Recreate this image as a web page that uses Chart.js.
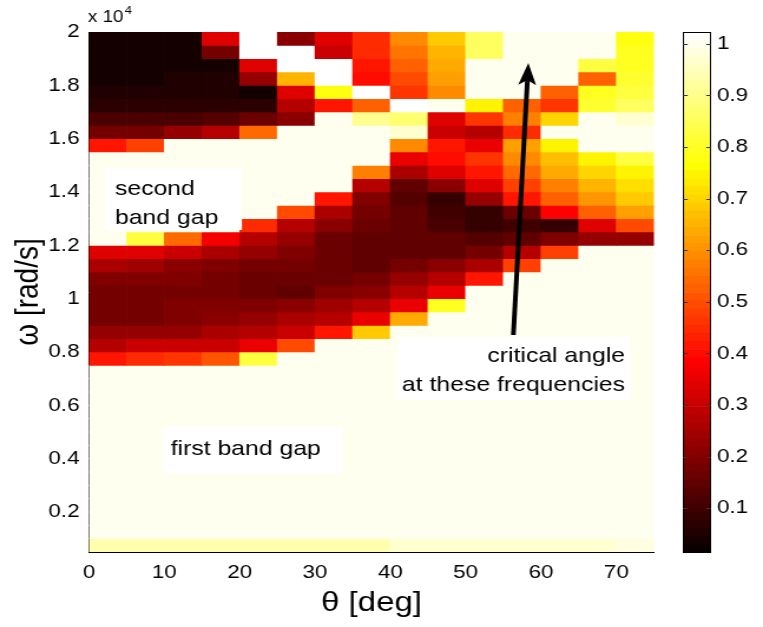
<!DOCTYPE html>
<html><head><meta charset="utf-8">
<script src="https://cdn.jsdelivr.net/npm/chart.js@4.4.1/dist/chart.umd.min.js"></script>
<style>
html,body{margin:0;padding:0;background:#fff;overflow:hidden;}
#wrap{position:relative;width:763px;height:627px;}
#wrap canvas{position:absolute;left:0;top:0;}
</style></head><body>
<div id="wrap">
<canvas id="main" width="647" height="627" style="width:763px;height:627px"></canvas>
<canvas id="cbar" width="647" height="627" style="width:763px;height:627px"></canvas>
</div>
<script>
// ---- data ----
const thetaCenters = [2.5, 7.5, 12.5, 17.5, 22.5, 27.5, 32.5, 37.5, 42.5, 47.5, 52.5, 57.5, 62.5, 67.5, 72.5];
// lower edge of each frequency row (rad/s), from top row to bottom row
const omegaLow = [19500, 19000, 18500, 18000, 17500, 17000, 16500, 16000, 15500, 15000, 14500, 14000, 13500, 13000,
  12500, 12000, 11500, 11000, 10500, 10000, 9500, 9000, 8500, 8000, 7500, 7000, 6500, 6000, 5500, 5000,
  4500, 4000, 3500, 3000, 2500, 2000, 1500, 1000, 500];
const omegaStep = 500;
// transmission values, one row per omegaLow entry, one column per thetaCenters entry
const transmission = [
  [0.04,0.04,0.04,0.34,1.03,0.21,0.34,0.45,0.59,0.69,0.86,1.00,1.00,1.00,0.78],
  [0.04,0.04,0.03,0.18,1.03,1.03,0.30,0.45,0.56,0.66,0.86,1.00,1.00,1.00,0.79],
  [0.04,0.04,0.04,0.03,0.34,1.03,1.03,0.42,0.53,0.64,1.00,1.00,1.00,0.82,0.80],
  [0.04,0.04,0.05,0.05,0.22,0.66,1.03,0.40,0.50,0.62,1.00,1.00,1.00,0.53,0.81],
  [0.06,0.06,0.06,0.06,0.04,0.34,0.78,1.03,0.47,0.59,1.00,1.00,0.53,0.79,0.82],
  [0.07,0.07,0.07,0.07,0.07,0.28,0.42,0.53,1.03,1.00,0.75,0.53,0.47,0.81,0.85],
  [0.12,0.12,0.12,0.13,0.16,0.21,1.00,0.90,0.87,0.34,0.47,0.57,0.70,1.00,0.96],
  [0.18,0.18,0.22,0.28,0.54,1.00,1.00,1.00,0.97,0.31,0.27,0.45,1.00,1.00,1.00],
  [0.42,0.48,1.00,1.00,1.00,1.00,1.00,1.00,0.59,0.41,0.35,0.62,0.75,1.00,1.00],
  [1.00,1.00,1.00,1.00,1.00,1.00,1.00,1.00,0.35,0.40,0.47,0.59,0.67,0.75,0.83],
  [1.00,1.00,1.00,1.00,1.00,1.00,1.00,0.57,0.25,0.33,0.42,0.54,0.63,0.70,0.75],
  [1.00,1.00,1.00,1.00,1.00,1.00,1.00,0.28,0.15,0.21,0.34,0.48,0.57,0.66,0.72],
  [1.00,1.00,1.00,1.00,1.00,1.00,0.42,0.19,0.13,0.09,0.22,0.41,0.53,0.61,0.69],
  [1.00,1.00,1.00,1.00,1.00,0.50,0.25,0.18,0.14,0.10,0.08,0.16,0.38,0.53,0.62],
  [1.00,1.00,1.00,1.00,0.45,0.28,0.21,0.16,0.14,0.12,0.08,0.10,0.08,0.33,0.50],
  [1.00,0.83,0.54,0.37,0.28,0.22,0.16,0.15,0.14,0.14,0.13,0.15,0.19,0.22,0.23],
  [0.34,0.33,0.30,0.25,0.22,0.19,0.16,0.15,0.15,0.15,0.18,0.27,0.48,1.00,1.00],
  [0.25,0.24,0.21,0.19,0.18,0.18,0.16,0.15,0.18,0.21,0.25,0.48,1.00,1.00,1.00],
  [0.19,0.19,0.19,0.18,0.16,0.16,0.16,0.18,0.22,0.27,0.42,1.00,1.00,1.00,1.00],
  [0.18,0.18,0.18,0.18,0.17,0.15,0.19,0.21,0.27,0.36,1.00,1.00,1.00,1.00,1.00],
  [0.18,0.18,0.19,0.19,0.19,0.21,0.24,0.27,0.35,0.79,1.00,1.00,1.00,1.00,1.00],
  [0.18,0.18,0.20,0.21,0.22,0.25,0.28,0.35,0.64,1.00,1.00,1.00,1.00,1.00,1.00],
  [0.22,0.22,0.23,0.25,0.27,0.31,0.41,0.69,1.00,1.00,1.00,1.00,1.00,1.00,1.00],
  [0.28,0.30,0.30,0.31,0.35,0.50,1.00,1.00,1.00,1.00,1.00,1.00,1.00,1.00,1.00],
  [0.41,0.44,0.46,0.51,0.83,1.00,1.00,1.00,1.00,1.00,1.00,1.00,1.00,1.00,1.00],
  [1.00,1.00,1.00,1.00,1.00,1.00,1.00,1.00,1.00,1.00,1.00,1.00,1.00,1.00,1.00],
  [1.00,1.00,1.00,1.00,1.00,1.00,1.00,1.00,1.00,1.00,1.00,1.00,1.00,1.00,1.00],
  [1.00,1.00,1.00,1.00,1.00,1.00,1.00,1.00,1.00,1.00,1.00,1.00,1.00,1.00,1.00],
  [1.00,1.00,1.00,1.00,1.00,1.00,1.00,1.00,1.00,1.00,1.00,1.00,1.00,1.00,1.00],
  [1.00,1.00,1.00,1.00,1.00,1.00,1.00,1.00,1.00,1.00,1.00,1.00,1.00,1.00,1.00],
  [1.00,1.00,1.00,1.00,1.00,1.00,1.00,1.00,1.00,1.00,1.00,1.00,1.00,1.00,1.00],
  [1.00,1.00,1.00,1.00,1.00,1.00,1.00,1.00,1.00,1.00,1.00,1.00,1.00,1.00,1.00],
  [1.00,1.00,1.00,1.00,1.00,1.00,1.00,1.00,1.00,1.00,1.00,1.00,1.00,1.00,1.00],
  [1.00,1.00,1.00,1.00,1.00,1.00,1.00,1.00,1.00,1.00,1.00,1.00,1.00,1.00,1.00],
  [1.00,1.00,1.00,1.00,1.00,1.00,1.00,1.00,1.00,1.00,1.00,1.00,1.00,1.00,1.00],
  [1.00,1.00,1.00,1.00,1.00,1.00,1.00,1.00,1.00,1.00,1.00,1.00,1.00,1.00,1.00],
  [1.00,1.00,1.00,1.00,1.00,1.00,1.00,1.00,1.00,1.00,1.00,1.00,1.00,1.00,1.00],
  [1.00,1.00,1.00,1.00,1.00,1.00,1.00,1.00,1.00,1.00,1.00,1.00,1.00,1.00,1.00],
  [0.94,0.94,0.94,0.94,0.94,0.94,0.94,0.94,0.96,0.96,0.96,0.97,0.97,0.97,0.99]
];
const xTicks = [0, 10, 20, 30, 40, 50, 60, 70];
const yTicks = [2000, 4000, 6000, 8000, 10000, 12000, 14000, 16000, 18000, 20000];
const cbTicks = [0.1, 0.2, 0.3, 0.4, 0.5, 0.6, 0.7, 0.8, 0.9, 1];
const CMIN = 0.013, CMAX = 1.023;

// ---- annotations (data coordinates: theta deg, omega rad/s) ----
const notes = [
  {lines:['second','band gap'], box:[2.1, 20.3, 12575, 14900], tx:3.45, ty:13887, align:'left'},
  {lines:['first band gap'], box:[9.7, 33.6, 3462, 5187], tx:10.85, ty:4137, align:'left'},
  {lines:['critical angle','at these frequencies'], box:[40.9, 71.8, 6200, 8562], tx:71.15, ty:7625, align:'right'}
];
const arrowTail = [56.33, 8637];
const arrowTip = [58.32, 18837];

// ---- style ----
const FONT = '"Liberation Sans", Arial, Helvetica, sans-serif';
const NLEV = 64;
function hotLevel(i){
  const r = Math.min(1, (i+1)/24);
  const g = Math.max(0, Math.min(1, (i+1-24)/24));
  const b = Math.max(0, Math.min(1, (i+1-48)/16));
  return `rgb(${Math.round(r*255)},${Math.round(g*255)},${Math.round(b*255)})`;
}
function hot(v){
  let t = (v - CMIN)/(CMAX - CMIN);
  t = Math.max(0, Math.min(1, t));
  return hotLevel(Math.min(NLEV-1, Math.floor(t*NLEV)));
}

const STRETCH = 763/647;
const px = v => v / STRETCH; // reference-x pixels -> canvas units

const datasets = omegaLow.map((lo, r) => ({
  data: thetaCenters.map((t) => ({x: t, y: [lo, lo + omegaStep]})),
  backgroundColor: transmission[r].map(hot),
  borderWidth: 0,
  barPercentage: 1,
  categoryPercentage: 1,
  grouped: false
}));

const annotPlugin = {
  id: 'annot',
  afterDatasetsDraw(chart){
    const {ctx, scales:{x, y}} = chart;
    ctx.save();
    notes.forEach(n => {
      const x0 = x.getPixelForValue(n.box[0]), x1 = x.getPixelForValue(n.box[1]);
      const y0 = y.getPixelForValue(n.box[3]), y1 = y.getPixelForValue(n.box[2]);
      ctx.fillStyle = '#fff';
      ctx.fillRect(x0, y0, x1 - x0, y1 - y0);
      ctx.fillStyle = '#000';
      ctx.font = '21px ' + FONT;
      ctx.textAlign = n.align;
      ctx.textBaseline = 'alphabetic';
      n.lines.forEach((t, i) => ctx.fillText(t, x.getPixelForValue(n.tx), y.getPixelForValue(n.ty) + i*29));
    });
    // arrow
    const p0 = {x: x.getPixelForValue(arrowTail[0]), y: y.getPixelForValue(arrowTail[1])};
    const p1 = {x: x.getPixelForValue(arrowTip[0]), y: y.getPixelForValue(arrowTip[1])};
    const dx = p1.x - p0.x, dy = p1.y - p0.y, L = Math.hypot(dx, dy);
    const ux = dx/L, uy = dy/L, nx = -uy, ny = ux;
    const hl = 22, hw = 7.6;
    const bx = p1.x - ux*hl, by = p1.y - uy*hl;
    ctx.strokeStyle = '#000'; ctx.fillStyle = '#000';
    ctx.lineWidth = 4; ctx.lineCap = 'butt';
    ctx.beginPath(); ctx.moveTo(p0.x, p0.y); ctx.lineTo(bx + ux*6, by + uy*6); ctx.stroke();
    ctx.beginPath();
    ctx.moveTo(p1.x, p1.y);
    ctx.lineTo(bx + nx*hw, by + ny*hw);
    ctx.lineTo(bx + ux*5, by + uy*5);
    ctx.lineTo(bx - nx*hw, by - ny*hw);
    ctx.closePath(); ctx.fill();
    ctx.restore();
  },
  afterDraw(chart){
    const {ctx, chartArea} = chart;
    ctx.save();
    ctx.fillStyle = '#000';
    ctx.textAlign = 'left'; ctx.textBaseline = 'alphabetic';
    ctx.font = '16px ' + FONT;
    const lx = chartArea.left - 1;
    ctx.fillText('x 10', lx, 22);
    const w = ctx.measureText('x 10').width;
    ctx.font = '11px ' + FONT;
    ctx.fillText('4', lx + w + 1, 14);
    ctx.restore();
  }
};

new Chart(document.getElementById('main'), {
  type: 'bar',
  data: {datasets},
  options: {
    responsive: false, devicePixelRatio: 1, animation: false, events: [],
    layout: {padding: {left: 0, right: 647 - px(654), top: 32, bottom: 0}},
    plugins: {legend: {display: false}, tooltip: {enabled: false}},
    scales: {
      x: {
        type: 'linear', min: 0, max: 75, offset: false,
        afterBuildTicks: s => { s.ticks = xTicks.map(v => ({value: v})); },
        afterFit: s => { s.height = 75; },
        ticks: {font: {family: FONT, size: 19}, color: '#000', padding: 9, maxRotation: 0, autoSkip: false},
        grid: {display: false, drawTicks: false},
        border: {display: true, color: '#000', width: 1},
        title: {display: true, text: 'θ [deg]', color: '#000', font: {family: FONT, size: 28}, padding: {top: 0, bottom: 7}}
      },
      y: {
        type: 'linear', min: 500, max: 20000,
        afterBuildTicks: s => { s.ticks = yTicks.map(v => ({value: v})); },
        afterFit: s => { s.width = px(89); },
        ticks: {font: {family: FONT, size: 19}, color: '#000', padding: 8, autoSkip: false,
                callback: v => String(+(v/10000).toFixed(1))},
        grid: {display: false, drawTicks: false},
        border: {display: true, color: '#000', width: 1},
        title: {display: true, text: 'ω [rad/s]', color: '#000', font: {family: FONT, size: 28}, padding: {top: 7, bottom: 0}}
      }
    }
  },
  plugins: [annotPlugin]
});

// ---- colorbar ----
const cbLevels = Array.from({length: NLEV}, (_, k) => k);
const cbStep = (CMAX - CMIN)/NLEV;
const cbPlugin = {
  id: 'cbframe',
  afterDraw(chart){
    const {ctx, chartArea: a, scales:{y}} = chart;
    ctx.save();
    ctx.strokeStyle = '#000'; ctx.lineWidth = 1;
    ctx.strokeRect(Math.round(a.left) + 0.5, Math.round(a.top) + 0.5, Math.round(a.right - a.left) - 1, Math.round(a.bottom - a.top) - 1);
    ctx.strokeStyle = '#333';
    cbTicks.forEach(v => {
      const yy = Math.round(y.getPixelForValue(v)) + 0.5;
      ctx.beginPath();
      ctx.moveTo(a.left, yy); ctx.lineTo(a.left + 4, yy);
      ctx.moveTo(a.right - 4, yy); ctx.lineTo(a.right, yy);
      ctx.stroke();
    });
    ctx.restore();
  }
};
new Chart(document.getElementById('cbar'), {
  type: 'bar',
  data: {
    labels: ['cb'],
    datasets: cbLevels.map(k => ({
      data: [[CMIN + k*cbStep, CMIN + (k+1)*cbStep]],
      backgroundColor: hotLevel(k), borderWidth: 0,
      barPercentage: 1, categoryPercentage: 1, grouped: false
    }))
  },
  options: {
    responsive: false, devicePixelRatio: 1, animation: false, events: [],
    layout: {padding: {left: px(683), right: 0, top: 32, bottom: 74}},
    plugins: {legend: {display: false}, tooltip: {enabled: false}},
    scales: {
      x: {display: false},
      y: {
        position: 'right', min: CMIN, max: CMAX,
        afterBuildTicks: s => { s.ticks = cbTicks.map(v => ({value: v})); },
        afterFit: s => { s.width = 647 - px(711); },
        ticks: {font: {family: FONT, size: 19}, color: '#000', padding: 5, autoSkip: false, callback: v => String(v)},
        grid: {display: false, drawTicks: false},
        border: {display: false}
      }
    }
  },
  plugins: [cbPlugin]
});
</script>
</body></html>
